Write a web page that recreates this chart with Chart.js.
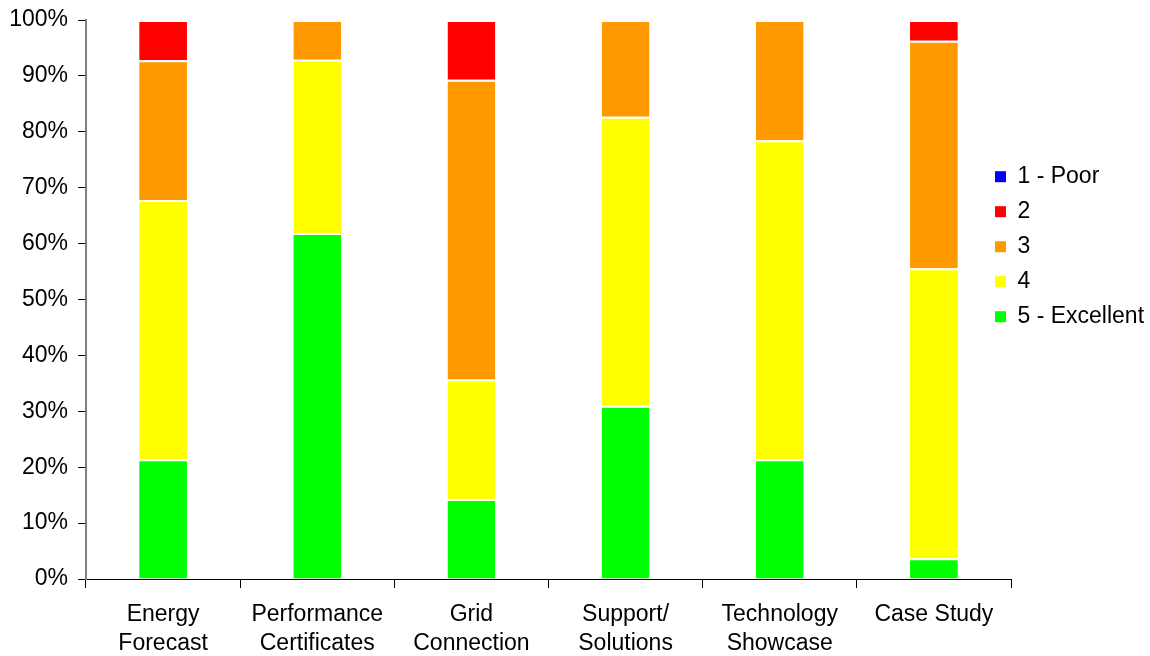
<!DOCTYPE html>
<html>
<head>
<meta charset="utf-8">
<script src="https://cdn.jsdelivr.net/npm/chart.js@4.4.0/dist/chart.umd.min.js"></script>
<style>
html,body{margin:0;padding:0;background:#fff;}
#wrap{width:1150px;height:656px;position:relative;}
</style>
</head>
<body>
<div id="wrap"><canvas id="c" width="1150" height="656"></canvas></div>
<script>
const categories = [["Energy","Forecast"],["Performance","Certificates"],["Grid","Connection"],["Support/","Solutions"],["Technology","Showcase"],["Case Study"]];
const seriesNames = ["5 - Excellent","4","3","2","1 - Poor"];
const excellent = [21.4, 61.9, 14.3, 31.0, 21.4, 3.7];
const four      = [46.4, 31.0, 21.4, 51.7, 57.1, 51.9];
const three     = [25.0, 7.1, 53.6, 17.3, 21.5, 40.7];
const two       = [7.2, 0, 10.7, 0, 0, 3.7];
const poor      = [0, 0, 0, 0, 0, 0];
const yTicks = [0,10,20,30,40,50,60,70,80,90,100];
const colors = ["#00ff00","#ffff00","#ff9900","#ff0000","#0000ff"];

const seriesValues = [excellent, four, three, two, poor];
const FONT = "'Liberation Sans', Arial, sans-serif";
const FS = 23;

const legendPlace = {
  id: 'legendPlace',
  beforeLayout(chart) {
    const lg = chart.legend;
    if (lg && !lg._patched) {
      const f = lg.fit;
      lg.fit = function() { f.call(this); if (!this.isHorizontal()) this.width = 139; };
      lg._patched = true;
    }
  },
  afterLayout(chart) {
    const lg = chart.legend;
    if (lg) { lg.left = 983; lg.width = 167; lg.right = 1150; }
  }
};

new Chart(document.getElementById('c'), {
  type: 'bar',
  data: {
    labels: categories,
    datasets: seriesValues.map((v,i)=>({
      label: seriesNames[i],
      data: v,
      backgroundColor: colors[i],
      borderColor: '#ffffff',
      borderWidth: {top:2,left:0,right:0,bottom:0},
      borderSkipped: false,
      barPercentage: 0.31,
      categoryPercentage: 1.0
    }))
  },
  plugins: [legendPlace],
  options: {
    responsive: false,
    animation: false,
    layout: { padding: { top: 20, right: 0, left: 0, bottom: 0 } },
    plugins: {
      tooltip: { enabled: false },
      legend: {
        position: 'right',
        align: 'start',
        reverse: true,
        title: { display: true, text: ' ', padding: { top: 132, bottom: 0 }, font: { size: 1 } },
        labels: {
          boxWidth: 11, boxHeight: 11, padding: 12,
          color: '#000',
          font: { family: FONT, size: FS },
          generateLabels(chart) {
            const items = Chart.defaults.plugins.legend.labels.generateLabels(chart);
            items.forEach(it => { it.lineWidth = 0; it.strokeStyle = it.fillStyle; });
            return items;
          }
        }
      }
    },
    scales: {
      x: {
        stacked: true,
        grid: { display: true, drawOnChartArea: false, offset: true, tickLength: 9, color: '#000', lineWidth: 1 },
        border: { display: true, color: '#000', width: 1 },
        ticks: { color: '#000', font: { family: FONT, size: FS, lineHeight: 1.26 }, maxRotation: 0, autoSkip: false, padding: 12 },
        afterFit(s) { s.height = 77; s.paddingLeft = 0; s.paddingRight = 0; }
      },
      y: {
        stacked: true,
        min: 0, max: 100,
        afterBuildTicks(s) { s.ticks = yTicks.map(v => ({ value: v })); },
        grid: { display: true, drawOnChartArea: false, tickLength: 8, color: '#000', lineWidth: 1 },
        border: { display: true, color: '#808080', width: 2 },
        ticks: { color: '#000', font: { family: FONT, size: FS }, padding: 10, callback: v => v + '%' },
        afterFit(s) { s.width = 86; s.paddingTop = 0; s.paddingBottom = 0; }
      }
    }
  }
});
</script>
</body>
</html>
